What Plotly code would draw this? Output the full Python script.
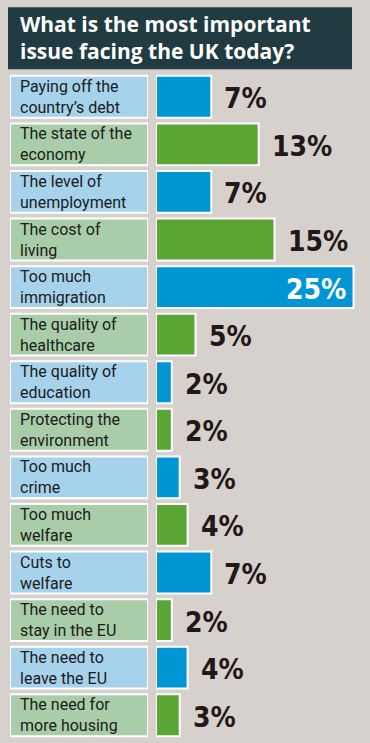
import plotly.graph_objects as go

title_lines = ["What is the most important", "issue facing the UK today?"]
categories = [
    "Paying off the<br>country’s debt",
    "The state of the<br>economy",
    "The level of<br>unemployment",
    "The cost of<br>living",
    "Too much<br>immigration",
    "The quality of<br>healthcare",
    "The quality of<br>education",
    "Protecting the<br>environment",
    "Too much<br>crime",
    "Too much<br>welfare",
    "Cuts to<br>welfare",
    "The need to<br>stay in the EU",
    "The need to<br>leave the EU",
    "The need for<br>more housing",
]
values = [7, 13, 7, 15, 25, 5, 2, 2, 3, 4, 7, 2, 4, 3]
value_labels = [f"{v}%" for v in values]

BG = "#d6d1cd"
BAR_COLORS = ["#0096d6", "#5ba535"]
BOX_COLORS = ["#a6d2ec", "#a8cda8"]
bar_cols = [BAR_COLORS[i % 2] for i in range(len(values))]
box_cols = [BOX_COLORS[i % 2] for i in range(len(values))]

W, H = 370, 743
top_px = 72.7
bottom_px = 4
plot_h = H - top_px - bottom_px

fig = go.Figure()

# label boxes
fig.add_trace(go.Bar(
    y=categories, x=[1] * len(categories), orientation="h",
    marker=dict(color=box_cols, line=dict(color="white", width=2)),
    xaxis="x2", yaxis="y", hoverinfo="skip", showlegend=False,
))
# value bars
fig.add_trace(go.Bar(
    y=categories, x=values, orientation="h",
    marker=dict(color=bar_cols, line=dict(color="white", width=2)),
    xaxis="x", yaxis="y", hoverinfo="skip", showlegend=False,
))

annotations = []
label_font = dict(family="Roboto, DejaVu Sans", size=16, color="#1b1b1b")
for cat in categories:
    annotations.append(dict(
        x=0, y=cat, xref="x2", yref="y", text=cat, showarrow=False,
        xanchor="left", yanchor="middle", align="left", xshift=8,
        yshift=0, font=label_font,
    ))

val_family = "DejaVu Sans"
vmax = max(values)
for cat, v, lab in zip(categories, values, value_labels):
    txt = f"<span style='font-stretch:condensed'><b>{lab}</b></span>"
    if v == vmax:
        annotations.append(dict(
            x=v, y=cat, xref="x", yref="y", text=txt, showarrow=False,
            xanchor="right", yanchor="middle", xshift=-6, yshift=-2,
            font=dict(family=val_family, size=28, color="white"),
        ))
    else:
        annotations.append(dict(
            x=v, y=cat, xref="x", yref="y", text=txt, showarrow=False,
            xanchor="left", yanchor="middle", xshift=11, yshift=-2,
            font=dict(family=val_family, size=28, color="#221815"),
        ))

# title (pixel position from top converted to paper coords)
title_center_px = 37
annotations.append(dict(
    x=18 / W, y=1 + (top_px - title_center_px) / plot_h, xref="paper", yref="paper",
    text="<b>" + "<br>".join(title_lines) + "</b>", showarrow=False,
    xanchor="left", yanchor="middle", align="left",
    font=dict(family="Open Sans, Roboto, DejaVu Sans", size=21, color="white"),
))

fig.update_layout(
    width=W, height=H,
    margin=dict(l=0, r=0, t=top_px, b=bottom_px, pad=0),
    paper_bgcolor=BG, plot_bgcolor=BG,
    bargap=0.12,
    xaxis=dict(domain=[156 / W, 1], range=[0, (W - 156) / 7.9],
               visible=False, fixedrange=True),
    xaxis2=dict(domain=[10 / W, 148 / W], range=[0, 1], visible=False,
                anchor="y", fixedrange=True),
    yaxis=dict(autorange="reversed", visible=False, fixedrange=True),
    annotations=annotations,
    shapes=[dict(
        type="rect", xref="paper", yref="paper",
        x0=8 / W, x1=352 / W,
        y0=1 + (top_px - 69) / plot_h, y1=1 + (top_px - 7) / plot_h,
        fillcolor="#203b41", line=dict(width=0), layer="below",
    )],
    showlegend=False,
)

fig.write_html(
    "out.html",
    config={"displayModeBar": False},
    post_script="document.body.style.margin='0';document.body.style.background='" + BG + "';",
)
